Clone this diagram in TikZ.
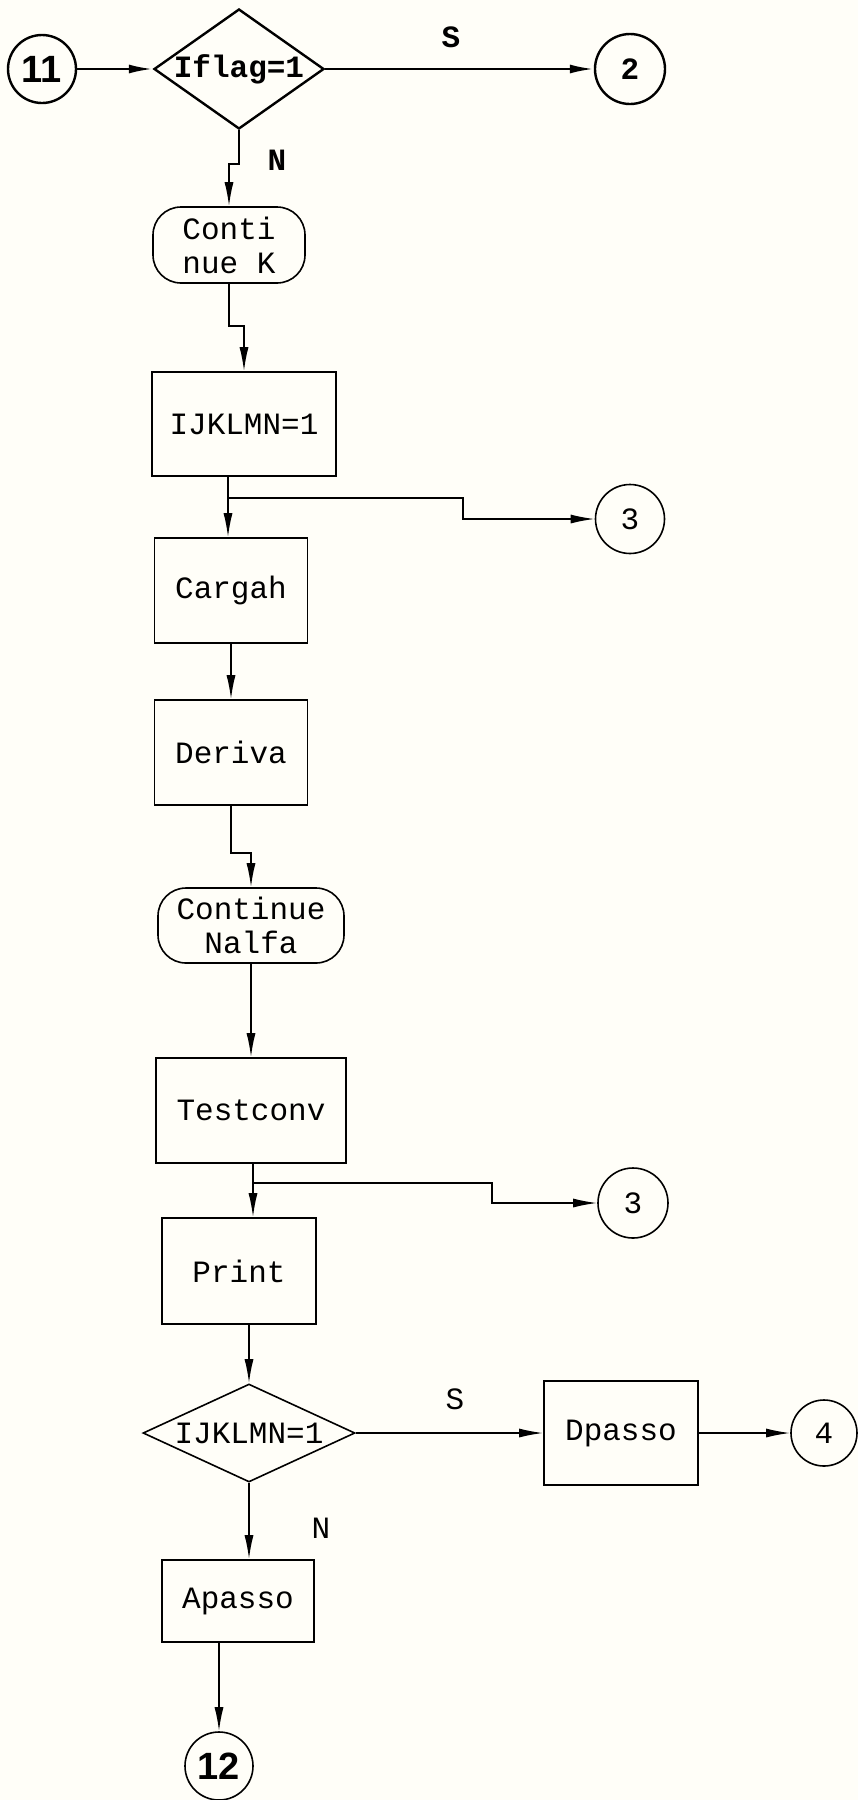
\documentclass[tikz,border=0pt]{standalone}
\usepackage{fontspec}
\setmonofont{Liberation Mono}
\setsansfont{Liberation Sans}
\usetikzlibrary{shapes.geometric,arrows.meta}
\definecolor{paper}{RGB}{255,254,248}

\begin{document}
\begin{tikzpicture}[x=0.5pt, y=-0.5pt,
  font=\ttfamily\fontsize{15.5}{17}\selectfont,
  box/.style={draw, line width=0.8pt, inner sep=0pt},
  term/.style={box, rounded corners=14pt, align=center},
  dec/.style={box, diamond},
  conn/.style={box, circle},
  hand/.style={font=\sffamily\bfseries\fontsize{19}{19}\selectfont},
  bold/.style={font=\ttfamily\bfseries\fontsize{15.5}{17}\selectfont},
  wire/.style={draw, line width=0.8pt},
  flow/.style={wire, -{Latex[length=12pt,width=4.5pt]}},
  heavy/.style={line width=1.2pt}]
\fill[paper] (0,0) rectangle (858,1800);
\useasboundingbox (0,0) rectangle (858,1800);

% top test
\node[conn, heavy, hand, minimum size=34pt] (c11) at (42,69) {11};
\node[dec, heavy, minimum width=85pt, minimum height=60pt,
  label={[bold]center:{Iflag=1}}] (iflag) at (239,69) {};
\node[conn, heavy, bold, minimum size=35pt] (c2) at (630,69) {2};
\node[bold] (s1) at (451,37) {S};
\node[bold] (n1) at (277,160) {N};

% main column
\node[term, minimum width=76pt, minimum height=38pt, align=left] (contk) at (229,245) {Conti\\nue K};
\node[box, minimum width=92pt, minimum height=52pt] (ijk) at (244,424) {IJKLMN=1};
\node[conn, minimum size=34.5pt] (c3a) at (630,519) {3};
\node[box, minimum width=76.5pt, minimum height=52.5pt] (cargah) at (231,590.5) {Cargah};
\node[box, minimum width=76.5pt, minimum height=52.5pt] (deriva) at (231,752.5) {Deriva};
\node[term, minimum width=93pt, minimum height=37.5pt] (nalfa) at (251,925.5) {Continue\\Nalfa};
\node[box, minimum width=95pt, minimum height=52.5pt] (testconv) at (251,1110.5) {Testconv};
\node[conn, minimum size=35pt] (c3b) at (633,1203) {3};
\node[box, minimum width=77pt, minimum height=53pt] (print) at (239,1271) {Print};

% second test
\node[dec, minimum width=106pt, minimum height=49pt, label={center:{IJKLMN=1}}] (dec2) at (249,1433) {};
\node (s2) at (455,1399) {S};
\node (n2) at (321,1528) {N};
\node[box, minimum width=77pt, minimum height=52pt] (dpasso) at (621,1433) {Dpasso};
\node[conn, minimum size=33pt] (c4) at (824,1433) {4};
\node[box, minimum width=76pt, minimum height=41pt] (apasso) at (238,1601) {Apasso};
\node[conn, hand, minimum size=34pt] (c12) at (219,1766) {12};

\coordinate (t1) at (228,498);
\coordinate (t2) at (253,1183);

\draw[flow, heavy] (c11) -- (iflag);
\draw[flow, heavy] (iflag) -- (c2);
\draw[flow] (iflag.south) -- ++(0,34) -| (contk.north);
\draw[flow] (contk.south) -- ++(0,42) -| (ijk.north);
\draw[wire] (ijk.south -| t1) -- (t1);
\draw[flow] (t1) -- (t1 |- cargah.north);
\draw[flow] (t1) -- ++(235,0) |- (c3a.west);
\draw[flow] (cargah) -- (deriva);
\draw[flow] (deriva.south) -- ++(0,47) -| (nalfa.north);
\draw[flow] (nalfa) -- (testconv);
\draw[wire] (testconv.south -| t2) -- (t2);
\draw[flow] (t2) -- (t2 |- print.north);
\draw[flow] (t2) -- ++(239,0) |- (c3b.west);
\draw[flow] (print.south -| dec2.north) -- (dec2.north);
\draw[flow] (dec2.east) -- (dpasso.west);
\draw[flow] (dpasso) -- (c4);
\draw[flow] (dec2.south) -- (dec2.south |- apasso.north);
\draw[flow] (apasso.south -| c12.north) -- (c12.north);
\end{tikzpicture}
\end{document}
